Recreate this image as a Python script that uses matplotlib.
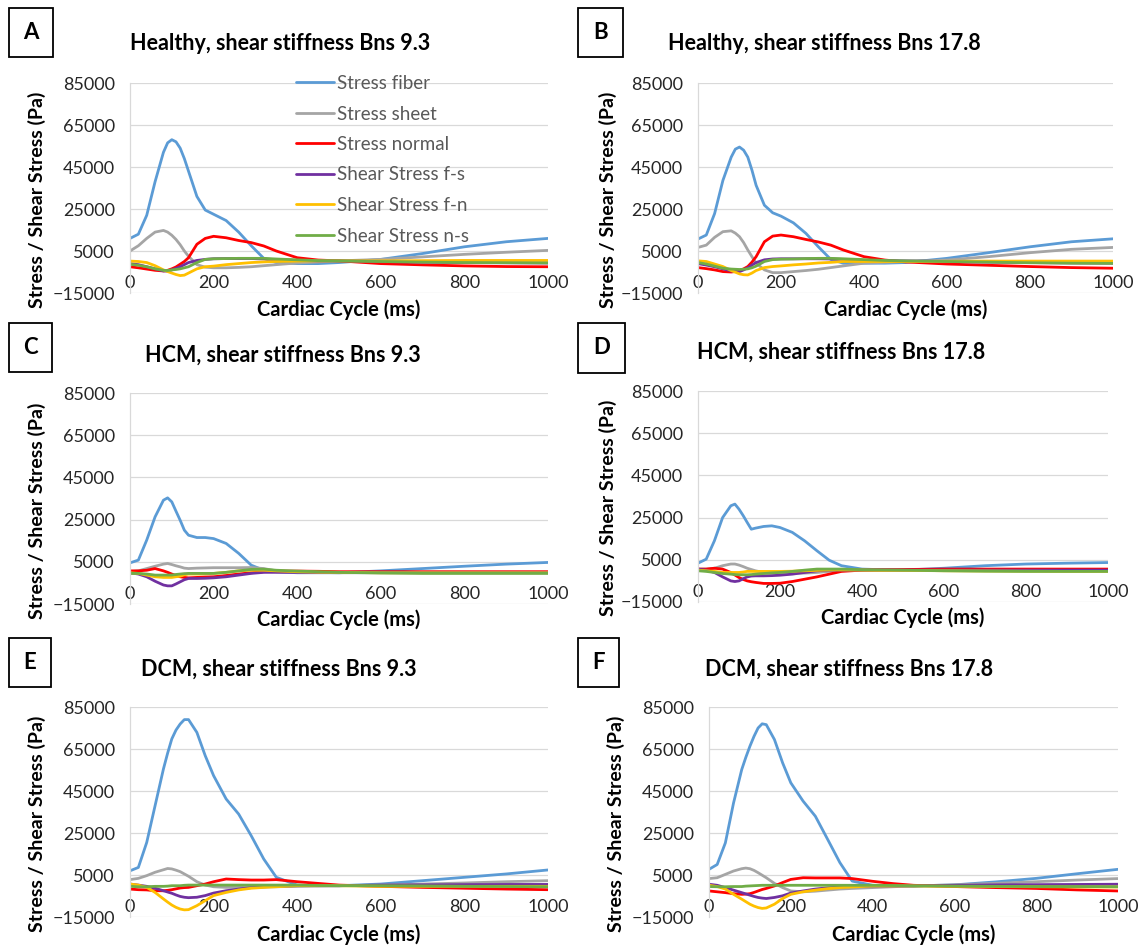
import numpy as np
import matplotlib.pyplot as plt
from matplotlib.patches import Rectangle

plt.rcParams['font.family'] = ['Lato', 'DejaVu Sans']

W, H = 1143, 947

# time points (ms)
t_ms = [0, 20, 40, 60, 80, 90, 100, 110, 120, 130, 140, 160, 180, 200, 230,
        260, 290, 320, 350, 400, 450, 500, 600, 700, 800, 900, 1000]

# all stresses in kPa (converted to Pa when plotted)
# A - Healthy, Bns 9.3
A_fiber = [11, 13, 22, 38, 52, 56.5, 58, 57, 54, 49, 43, 31, 24.5, 22.5, 19.5, 14, 7.5, 1.5, -0.5, -1, -1, -0.5, 1, 3.8, 7, 9.4, 11]
A_sheet = [5, 7.5, 11, 14, 14.8, 14, 12.5, 10.5, 8, 5, 2.5, -1.5, -2.7, -3, -3, -2.8, -2.5, -2, -1.5, -0.7, -0.2, 0.3, 1, 2.2, 3.4, 4.4, 5.3]
A_normal = [-2.5, -3, -3.6, -4.2, -4.5, -4.2, -3.5, -2.6, -1.3, 0, 1.8, 8.2, 11, 12, 11.3, 10, 9, 7.4, 5, 1.8, 0.7, 0.3, -1, -1.6, -2.1, -2.4, -2.5]
A_fs = [-1, -1.5, -2.5, -3.5, -4.5, -4.6, -4, -3.3, -2.5, -1.5, -0.5, 0.5, 1, 1.3, 1.4, 1.4, 1.4, 1.2, 0.9, 0.5, 0.3, 0.3, 0, -0.3, -0.5, -0.6, -0.7]
A_fn = [0.2, 0, -0.5, -2, -4, -4.8, -5.5, -6.2, -6.7, -6.5, -5.5, -3.5, -2.5, -2.2, -1.5, -1, -0.5, -0.2, 0, 0.2, 0.3, 0.3, 0.3, 0.4, 0.5, 0.5, 0.5]
A_ns = [-1.3, -1.8, -2.5, -3.5, -4.2, -4.3, -4, -3.8, -3.5, -3, -2.5, -0.5, 1, 1.3, 1.4, 1.5, 1.5, 1.5, 1.2, 0.8, 0.4, 0.3, 0, -0.3, -0.5, -0.6, -0.7]

# B - Healthy, Bns 17.8
B_fiber = [10.7, 12.6, 22.8, 38.6, 49.7, 53.5, 54.5, 53, 49.7, 43.5, 36.3, 26.8, 23.2, 21.6, 18.4, 13.4, 7, 1, -0.8, -0.8, -0.8, -0.5, 1.5, 4.2, 7, 9.4, 10.8]
B_sheet = [6.7, 7.8, 11.5, 14.2, 14.6, 13.5, 11.8, 9, 5.5, 2.3, -0.8, -4, -5.3, -5.3, -4.8, -4.3, -3.7, -2.9, -2.1, -0.8, -0.4, 0, 0.7, 2.3, 4.2, 5.8, 6.7]
B_normal = [-2.9, -3.4, -4, -4.8, -5, -4.8, -4.3, -3.5, -2.4, -0.3, 2.3, 9.4, 12.1, 12.6, 11.8, 10.5, 9.3, 7.8, 5.5, 2.3, 0.7, -0.2, -1.2, -1.8, -2.4, -2.9, -3.2]
B_fs = [-1, -1.7, -2.5, -3.5, -4.5, -4.8, -4.8, -4, -3, -1.7, -0.5, 0.8, 1.2, 1.3, 1.3, 1.3, 1.3, 1.2, 1, 0.5, 0.4, 0.3, 0, -0.3, -0.5, -0.7, -0.8]
B_fn = [0.3, 0, -1.2, -2.4, -4.3, -5.1, -5.9, -6.3, -6.4, -5.5, -4.3, -2.9, -2.4, -2.1, -1.6, -1.2, -0.7, -0.4, 0, 0, 0, 0, 0.1, 0.2, 0.2, 0.2, 0.2]
B_ns = [-0.5, -1.2, -2.2, -3.2, -3.6, -3.7, -3.8, -3.7, -3.5, -3, -2.2, 0, 0.9, 1.1, 1.2, 1.4, 1.5, 1.5, 1.3, 0.9, 0.5, 0.3, 0, -0.3, -0.6, -0.8, -0.9]

# C - HCM, Bns 9.3
C_fiber = [4.5, 5.8, 15.3, 26.3, 34.2, 35.3, 33.4, 29, 24.7, 20, 17.6, 16.5, 16.5, 16, 13.7, 9, 3.4, 1, 0.3, -0.2, -0.2, -0.2, 0.7, 1.8, 2.9, 3.9, 4.7]
C_sheet = [0.3, 0.7, 1.8, 2.9, 3.9, 4.2, 3.7, 3.1, 2.6, 2, 1.8, 2, 2.1, 2.2, 2.2, 2.2, 2.3, 1.8, 0.7, 0.1, 0, -0.2, -0.2, -0.2, -0.2, -0.2, -0.2]
C_normal = [0.7, 0.7, 1, 1.8, 0.7, 0, -0.8, -1.5, -2.1, -2.4, -2.6, -2.4, -2.2, -2.1, -1.5, -0.8, -0.2, 0.3, 0.6, 0.6, 0.5, 0.3, 0.3, 0.3, 0.3, 0.3, 0.3]
C_fs = [-0.2, -0.8, -2.1, -4.2, -6, -6.4, -6.4, -5.5, -4.5, -3.5, -2.9, -2.9, -2.8, -2.6, -2.1, -1.3, -0.5, 0, 0, 0, 0, 0, 0, 0, 0, 0, 0]
C_fn = [-0.2, -0.5, -1.3, -2.1, -2.4, -2.4, -2.4, -2.1, -1.8, -1.2, -0.8, -0.8, -0.7, -0.5, 0, 0.7, 1, 1, 0.7, 0.3, 0.1, 0, -0.2, -0.2, -0.2, -0.2, -0.2]
C_ns = [-0.5, -0.5, -0.8, -1.3, -1.3, -1.3, -1.3, -1, -0.8, -0.6, -0.5, -0.5, -0.5, -0.5, 0, 0.7, 1.4, 1.5, 1, 0.6, 0.3, 0, -0.3, -0.5, -0.5, -0.5, -0.5]

# D - HCM, Bns 17.8
D_fiber = [3.4, 5.3, 14, 25, 30.6, 31.4, 29, 26, 22.7, 19.5, 20, 20.8, 21.1, 20.3, 18, 14, 9.3, 4.8, 2.2, 0.6, 0.3, 0.1, 1, 2.2, 3, 3.4, 3.7]
D_sheet = [0.6, 0.6, 1, 2.2, 3, 3, 2.5, 1.8, 1, 0.4, -0.2, -1, -1.2, -1.3, -1.3, -1.3, -1, -0.5, -0.2, 0.1, 0.1, 0.1, 0.1, 0.1, 0.1, 0.1, 0.1]
D_normal = [0.6, 0.6, 1, 0.6, -1, -2.2, -3.4, -4.3, -5, -5.4, -5.7, -6.2, -6.2, -6.1, -5.3, -4.2, -3.1, -1.8, -0.5, 0.1, 0.3, 0.4, 0.6, 0.6, 0.6, 0.6, 0.6]
D_fs = [0.6, 0.1, -1, -3.1, -5, -5.3, -5, -4, -3.1, -2.7, -2.6, -2.6, -2.5, -2.3, -1.8, -1, -0.2, 0.1, 0.1, 0.1, 0.1, 0.1, 0.1, 0.1, 0.1, 0.1, 0.1]
D_fn = [0.1, -0.2, -0.5, -1, -1, -1, -1, -0.8, -0.5, -0.5, -0.5, -0.5, -0.5, -0.5, -0.4, -0.2, 0, 0.2, 0.2, 0.1, 0, 0, -0.2, -0.3, -0.4, -0.5, -0.5]
D_ns = [-0.2, -0.5, -1, -1.5, -1.8, -2, -2.1, -2.1, -2.1, -2, -1.8, -1.5, -1.2, -1, -0.5, 0.1, 0.6, 0.6, 0.6, 0.3, 0.2, 0.1, -0.2, -0.4, -0.5, -0.5, -0.5]

# E - DCM, Bns 9.3
E_fiber = [7, 8.6, 20.5, 38, 55.5, 63, 69.8, 74, 76.9, 79, 79, 72.9, 61.8, 52.3, 41.2, 34, 23.7, 12.6, 3.9, 0.2, -0.1, -0.1, 0.7, 2.3, 3.9, 5.5, 7.4]
E_sheet = [2.8, 3.4, 4.7, 6.3, 7.5, 8.1, 7.9, 7.3, 6.6, 5.5, 4.4, 1.8, 0.2, -0.6, -0.9, -0.9, -0.9, -0.7, -0.6, -0.4, -0.2, -0.1, 0.2, 0.7, 1.2, 1.8, 2.3]
E_normal = [-1.7, -2, -2.1, -2.5, -2.5, -2.3, -2, -1.6, -1.2, -1, -0.9, -0.1, 0.7, 1.8, 3.1, 2.8, 2.6, 2.6, 2.8, 1.8, 1, 0.2, -0.4, -0.9, -1.3, -1.7, -2]
E_fs = [0.7, 0.2, -0.4, -1.3, -2.5, -3.1, -3.7, -4.5, -5.2, -5.6, -5.8, -5.6, -4.8, -3.6, -2.5, -1.7, -1, -0.6, -0.4, -0.1, -0.1, -0.1, 0.2, 0.3, 0.4, 0.5, 0.5]
E_fn = [0.7, 0.2, -0.9, -3.3, -6.4, -7.9, -9.3, -10.4, -11.2, -11.6, -11.5, -9.6, -7.2, -4.8, -3.3, -2.1, -1.3, -0.9, -0.6, -0.1, -0.1, -0.1, -0.4, -0.4, -0.4, -0.4, -0.4]
E_ns = [-0.4, -0.6, -0.6, -0.4, -0.4, -0.3, -0.1, -0.1, -0.1, 0.1, 0.2, 0.2, 0.2, 0.2, 0.2, 0.2, 0.2, 0.2, 0.2, 0.2, 0, -0.1, -0.1, -0.2, -0.4, -0.5, -0.6]

# F - DCM, Bns 17.8
F_fiber = [7.7, 10, 20.3, 39.3, 55.2, 61, 66.3, 71, 75, 77, 76.6, 69.5, 58.4, 48.9, 40.2, 33, 22, 10.9, 2.1, 0.1, -0.1, -0.2, 0.3, 1.7, 3.4, 5.6, 7.7]
F_sheet = [3.3, 3.7, 5.3, 6.9, 8, 8.3, 8, 7.2, 6.1, 4.9, 3.7, 1, -1, -2.6, -3, -2.7, -2.2, -1.7, -1.4, -1, -0.6, -0.2, 0.3, 1, 1.8, 2.6, 3.3]
F_normal = [-2.6, -3, -3.4, -3.9, -4.2, -4.1, -3.9, -3.3, -2.6, -1.9, -1.4, -0.2, 1.4, 2.9, 3.7, 3.6, 3.6, 3.6, 3.3, 2, 0.9, 0.1, -0.5, -1, -1.4, -2.1, -2.6]
F_fs = [0.6, 0.1, -1, -2.2, -3.4, -4, -4.6, -5.2, -5.7, -6, -6.2, -5.7, -4.9, -3.6, -2.6, -1.7, -1.1, -0.7, -0.4, -0.2, -0.2, -0.2, 0.1, 0.3, 0.4, 0.5, 0.6]
F_fn = [0.1, -0.5, -1.7, -4.2, -6.5, -7.7, -8.9, -9.8, -10.5, -10.9, -10.7, -8.9, -6.2, -4.2, -3, -2.2, -1.5, -1, -0.7, -0.2, -0.2, -0.2, -0.4, -0.5, -0.6, -0.7, -0.7]
F_ns = [-0.5, -0.6, -0.6, -0.5, -0.5, -0.3, -0.2, -0.1, 0, 0.1, 0.1, 0.1, 0.1, 0.1, 0.1, 0.1, 0.1, 0.1, 0.1, 0.1, 0, -0.2, -0.3, -0.4, -0.5, -0.5, -0.6]

series_names = ['Stress fiber', 'Stress sheet', 'Stress normal',
                'Shear Stress f-s', 'Shear Stress f-n', 'Shear Stress n-s']
series_colors = ['#5B9BD5', '#A5A5A5', '#FF0000', '#7030A0', '#FFC000', '#70AD47']

panel_letters = ['A', 'B', 'C', 'D', 'E', 'F']
panel_titles = ['Healthy, shear stiffness Bns 9.3', 'Healthy, shear stiffness Bns 17.8',
                'HCM, shear stiffness Bns 9.3', 'HCM, shear stiffness Bns 17.8',
                'DCM, shear stiffness Bns 9.3', 'DCM, shear stiffness Bns 17.8']
panel_data = [
    [A_fiber, A_sheet, A_normal, A_fs, A_fn, A_ns],
    [B_fiber, B_sheet, B_normal, B_fs, B_fn, B_ns],
    [C_fiber, C_sheet, C_normal, C_fs, C_fn, C_ns],
    [D_fiber, D_sheet, D_normal, D_fs, D_fn, D_ns],
    [E_fiber, E_sheet, E_normal, E_fs, E_fn, E_ns],
    [F_fiber, F_sheet, F_normal, F_fs, F_fn, F_ns],
]

# layout in pixels: plot box (l, r, t, b), title centre, letter box, ylabel centre, xlabel y
layout = [
    dict(plot=(130, 548, 83, 293), title=(280, 44), box=(9, 8, 53, 57), ylab=(37, 200), xlab=310),
    dict(plot=(698, 1113, 83, 293), title=(824, 44), box=(578, 8, 623, 57), ylab=(608, 200), xlab=310),
    dict(plot=(130, 548, 393, 604), title=(283, 355), box=(9, 323, 52, 372), ylab=(37, 511), xlab=620),
    dict(plot=(698, 1108, 391, 602), title=(841, 352), box=(578, 323, 625, 373), ylab=(608, 508), xlab=618),
    dict(plot=(130, 548, 707, 917), title=(279, 669), box=(9, 638, 51, 687), ylab=(37, 824), xlab=935),
    dict(plot=(709, 1118, 707, 917), title=(849, 669), box=(578, 638, 619, 687), ylab=(616, 824), xlab=935),
]


def fx(px):
    return px / W


def fy(py):
    return 1 - py / H


fig = plt.figure(figsize=(W / 100, H / 100), dpi=100)
legend_handles = None

for letter, title, data, lay in zip(panel_letters, panel_titles, panel_data, layout):
    l, r, t, b = lay['plot']
    ax = fig.add_axes([fx(l), fy(b), (r - l) / W, (b - t) / H])
    handles = []
    for vals, col in zip(data, series_colors):
        h, = ax.plot(t_ms, np.array(vals) * 1000, color=col, lw=2,
                     solid_joinstyle='round', solid_capstyle='round')
        handles.append(h)
    if legend_handles is None:
        legend_handles = handles

    ax.set_xlim(0, 1000)
    ax.set_ylim(-15000, 85000)
    ax.set_xticks(range(0, 1001, 200))
    ax.set_yticks(range(-15000, 85001, 20000))
    ax.grid(axis='y', color='#D9D9D9', lw=0.9)
    ax.set_axisbelow(True)
    for s in ['top', 'right', 'bottom']:
        ax.spines[s].set_visible(False)
    ax.spines['left'].set_color('#D9D9D9')
    ax.spines['left'].set_linewidth(0.9)
    ax.tick_params(length=0, labelsize=13, labelcolor='#262626')
    ax.tick_params(axis='x', pad=-13)
    ax.tick_params(axis='y', pad=11)

    fig.text(fx(lay['title'][0]), fy(lay['title'][1]), title, ha='center', va='center',
             fontsize=15.5, fontweight='bold')
    x0, y0, x1, y1 = lay['box']
    fig.add_artist(Rectangle((fx(x0), fy(y1)), (x1 - x0) / W, (y1 - y0) / H,
                             transform=fig.transFigure, fill=False, ec='black', lw=1.3))
    fig.text(fx((x0 + x1) / 2), fy((y0 + y1) / 2), letter, ha='center', va='center',
             fontsize=16, fontweight='bold')
    fig.text(fx(lay['ylab'][0]), fy(lay['ylab'][1]), 'Stress / Shear Stress (Pa)',
             rotation=90, ha='center', va='center', fontsize=14, fontweight='bold')
    fig.text(fx((l + r) / 2), fy(lay['xlab']), 'Cardiac Cycle (ms)', ha='center',
             va='center', fontsize=14.5, fontweight='bold')

fig.legend(legend_handles, series_names, loc='upper left', bbox_to_anchor=(fx(296), fy(75)),
           frameon=False, fontsize=13.5, handlelength=2.0, handletextpad=0.2,
           labelspacing=0.72, borderpad=0, borderaxespad=0, labelcolor='#595959')

fig.savefig('out.png', dpi=100)
